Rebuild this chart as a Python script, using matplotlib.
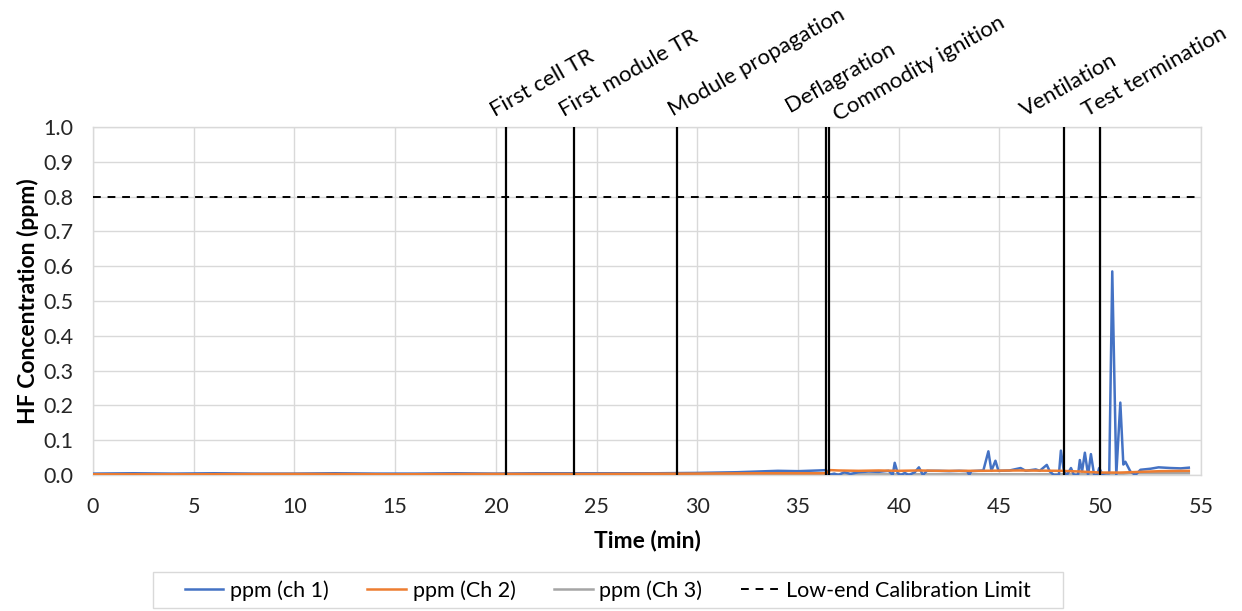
import numpy as np
import matplotlib
matplotlib.use('Agg')
import matplotlib.pyplot as plt
from matplotlib.patches import Rectangle

plt.rcParams['font.family'] = ['Lato', 'DejaVu Sans']

# ch 1 (blue)
t_ch1 = [0, 2, 4, 6, 8, 10, 12, 14, 16, 18, 20, 22, 24, 26, 28, 30, 31, 32, 33, 34, 35, 36, 36.4,
         36.5, 36.8, 37.0, 37.3, 37.6, 38.0, 38.5, 39.0, 39.5, 39.7, 39.8, 39.95, 40.1, 40.3, 40.5,
         40.8, 41.0, 41.2, 41.4, 42.0, 42.5, 43.0, 43.4, 43.5, 43.6, 44.2, 44.45, 44.6, 44.8, 44.95,
         45.5, 46.05, 46.3, 46.8, 47.0, 47.35, 47.5, 47.7, 47.95, 48.05, 48.2, 48.35, 48.55, 48.7,
         48.9, 48.99, 49.1, 49.24, 49.4, 49.54, 49.7, 49.85, 49.95, 50.1, 50.3, 50.45, 50.6, 50.8,
         51.0, 51.15, 51.25, 51.5, 51.75, 52.0, 52.5, 52.9, 53.5, 54.0, 54.4]
ppm_ch1 = [0.004, 0.005, 0.004, 0.005, 0.004, 0.004, 0.005, 0.004, 0.004, 0.005, 0.004, 0.005, 0.005,
           0.005, 0.005, 0.006, 0.007, 0.008, 0.010, 0.012, 0.011, 0.013, 0.014,
           0.0, 0.004, 0.0, 0.008, 0.003, 0.008, 0.010, 0.009, 0.012, 0.0, 0.035, 0.005, 0.0, 0.006, 0.0,
           0.008, 0.022, 0.0, 0.012, 0.012, 0.011, 0.012, 0.011, 0.0, 0.011, 0.013, 0.068, 0.012, 0.041, 0.012,
           0.013, 0.020, 0.012, 0.016, 0.012, 0.029, 0.010, 0.0, 0.0, 0.070, 0.010, 0.0, 0.020, 0.0,
           0.0, 0.043, 0.010, 0.064, 0.0, 0.060, 0.0, 0.0, 0.020, 0.003, 0.005, 0.005, 0.585, 0.0,
           0.208, 0.030, 0.038, 0.010, 0.0, 0.015, 0.018, 0.022, 0.020, 0.019, 0.021]

# Ch 2 (orange)
t_ch2 = [0, 5, 10, 15, 20, 25, 30, 33, 36.4, 36.6, 37, 38, 39, 40, 41, 42, 44, 46, 48, 49, 50, 51, 52, 53, 54.4]
ppm_ch2 = [0.002, 0.002, 0.003, 0.002, 0.003, 0.003, 0.004, 0.005, 0.005, 0.014, 0.013, 0.012, 0.013,
           0.012, 0.013, 0.012, 0.012, 0.013, 0.012, 0.010, 0.007, 0.007, 0.009, 0.011, 0.012]

# Ch 3 (gray)
t_ch3 = [0, 10, 20, 30, 40, 50, 51, 51.5, 53, 54.4]
ppm_ch3 = [0.002, 0.002, 0.002, 0.002, 0.002, 0.002, 0.003, 0.005, 0.005, 0.005]

calib_limit = 0.8

event_names = ['First cell TR', 'First module TR', 'Module propagation', 'Deflagration',
               'Commodity ignition', 'Ventilation', 'Test termination']
event_times = [20.5, 23.9, 29.0, 36.4, 36.55, 48.2, 50.0]
# where each rotated label starts (min) and its height above the plot (axes fraction)
label_x = [20.05, 23.5, 28.9, 34.7, 37.1, 46.35, 49.45]
label_y = [1.02, 1.02, 1.02, 1.032, 1.005, 1.02, 1.02]

fs = 15.5
fig = plt.figure(figsize=(12.42, 6.11), dpi=100)
ax = fig.add_axes([0.0749, 0.2226, 0.892, 0.5696])

grid_c = '#D9D9D9'
ax.plot(t_ch1, ppm_ch1, color='#4472C4', lw=1.8, label='ppm (ch 1)', zorder=3)
ax.plot(t_ch2, ppm_ch2, color='#ED7D31', lw=1.8, label='ppm (Ch 2)', zorder=4)
ax.plot(t_ch3, ppm_ch3, color='#A5A5A5', lw=1.8, label='ppm (Ch 3)', zorder=2)
ax.axhline(calib_limit, color='black', lw=1.4, ls=(0, (4, 3.5)), label='Low-end Calibration Limit', zorder=5)

for t in event_times:
    ax.axvline(t, color='black', lw=1.6, zorder=6)

for name, lx, ly in zip(event_names, label_x, label_y):
    ax.text(lx, ly, name, transform=ax.get_xaxis_transform(), rotation=29.5,
            rotation_mode='anchor', ha='left', va='bottom', fontsize=16, clip_on=False)

ax.set_xlim(0, 55)
ax.set_ylim(0, 1.0)
ax.set_xticks(np.arange(0, 56, 5))
ax.set_yticks(np.arange(0, 1.01, 0.1))
ax.set_yticklabels(['%.1f' % v for v in np.arange(0, 1.01, 0.1)])
ax.tick_params(length=0, labelsize=fs, colors='#262626')
ax.tick_params(axis='x', pad=16)
ax.tick_params(axis='y', pad=14)
ax.grid(True, color=grid_c, lw=1.0)
ax.set_axisbelow(True)
for s in ax.spines.values():
    s.set_color(grid_c)
    s.set_linewidth(1.0)

ax.set_xlabel('Time (min)', fontsize=16.5, fontweight='bold', labelpad=9)
ax.set_ylabel('HF Concentration (ppm)', fontsize=16.5, fontweight='bold', labelpad=3)

leg = fig.legend(loc='center', bbox_to_anchor=(0.4895, 0.034), ncol=4, fontsize=fs,
                 frameon=False, handlelength=1.8,
                 handletextpad=0.3, columnspacing=1.8, borderpad=0.35, borderaxespad=0)
# legend box drawn wider than matplotlib's own frame
fig.patches.append(Rectangle((0.1232, 0.0049), 0.7327, 0.0589, transform=fig.transFigure,
                             fill=False, edgecolor=grid_c, lw=1.0))

fig.savefig('out.png', dpi=100)
